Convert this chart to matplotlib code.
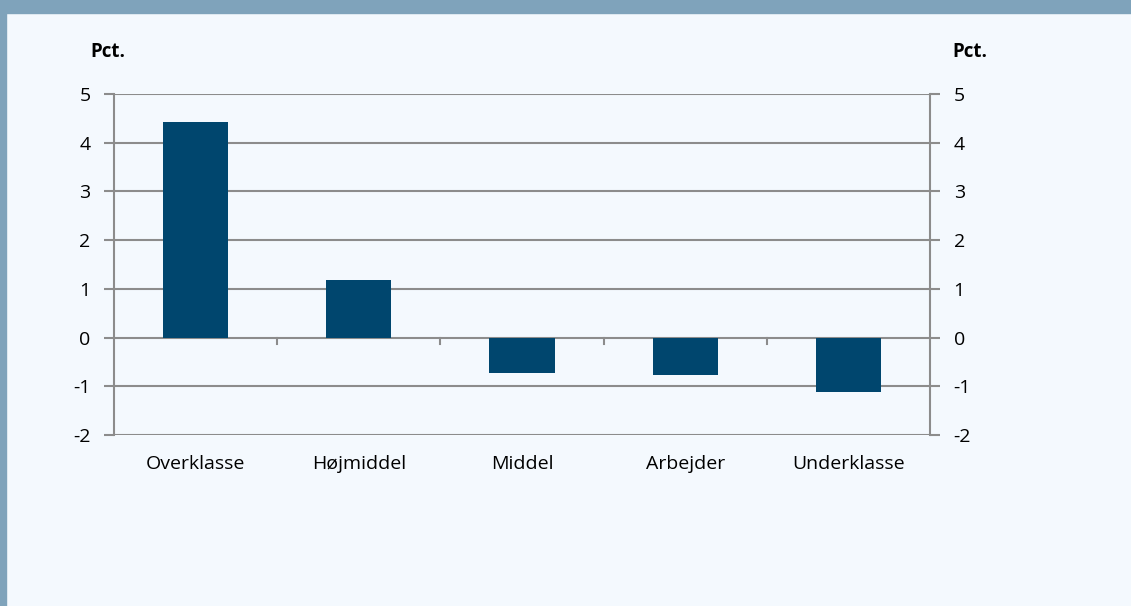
import matplotlib.pyplot as plt
import matplotlib.patches as mpatches

categories = ["Overklasse", "Højmiddel", "Middel", "Arbejder", "Underklasse"]
values = [4.43, 1.19, -0.72, -0.76, -1.11]
yticks = [-2, -1, 0, 1, 2, 3, 4, 5]

plt.rcParams['font.family'] = ['Open Sans', 'DejaVu Sans']

bg = "#f4f9fe"
band = "#7fa3bb"
grid = "#8c8c8c"

fig = plt.figure(figsize=(11.31, 6.06), dpi=100, facecolor=bg)
W, H = 1131, 606
# frame bands at top and left
fig.patches.append(mpatches.Rectangle((0, 1 - 13 / H), 1, 13 / H, transform=fig.transFigure,
                                      color=band, zorder=0))
fig.patches.append(mpatches.Rectangle((0, 0), 6 / W, 1, transform=fig.transFigure,
                                      color=band, zorder=0))

ax = fig.add_axes([114 / W, 1 - 435 / H, (930 - 114) / W, (435 - 94) / H])
ax.set_facecolor(bg)
x = range(len(categories))
ax.bar(x, values, width=0.4, color="#00466e", zorder=3)

ax.set_xlim(-0.5, len(categories) - 0.5)
ax.set_ylim(-2, 5)
ax.set_yticks(yticks)
ax.set_yticklabels([str(v) for v in yticks], fontsize=14)
ax.tick_params(axis='y', length=7, color=grid, width=1.5, pad=10, labelright=True, right=True)
ax.yaxis.grid(True, color=grid, linewidth=1.5, zorder=1)

for s in ["top", "bottom"]:
    ax.spines[s].set_visible(False)
for s in ["left", "right"]:
    ax.spines[s].set_color(grid)
    ax.spines[s].set_linewidth(1.5)

ax.set_xticks([])
for i, c in enumerate(categories):
    ax.text(i, -2.6, c, ha='center', va='center', fontsize=14)
# category separator ticks on the zero line
for i in range(1, len(categories)):
    ax.plot([i - 0.5, i - 0.5], [0, -0.14], color=grid, linewidth=1.5, zorder=2)

fig.text(108 / W, 1 - 52 / H, "Pct.", ha='center', va='center', fontsize=13.5, fontweight='bold')
fig.text(970 / W, 1 - 52 / H, "Pct.", ha='center', va='center', fontsize=13.5, fontweight='bold')

fig.savefig("out.png", dpi=100, facecolor=bg)
